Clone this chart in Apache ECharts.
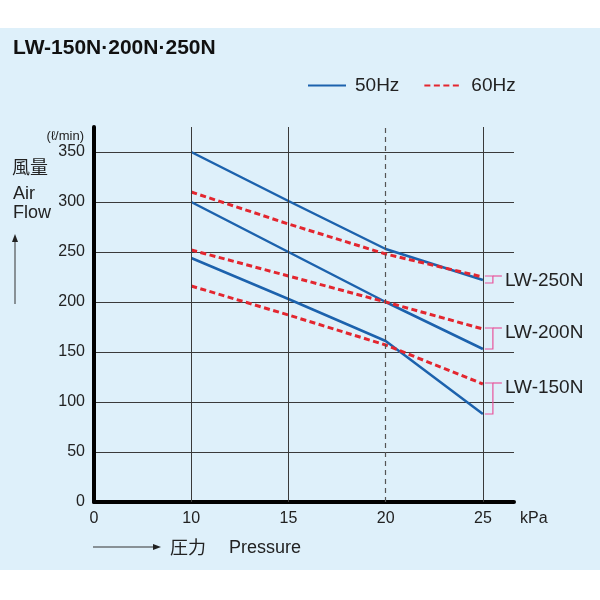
<!DOCTYPE html>
<html lang="ja">
<head>
<meta charset="UTF-8">
<title>LW-150N·200N·250N</title>
<style>
  html, body { margin: 0; padding: 0; background: #fff; }
  #wrap { position: relative; width: 600px; height: 600px; }
  /* light blue panel behind the chart */
  #panel { position: absolute; left: 0; top: 28px; width: 600px; height: 542px; background: #def0fa; }
  #chart { position: absolute; left: 0; top: 0; width: 600px; height: 600px; }
</style>
</head>
<body>
<div id="wrap">
  <div id="panel"></div>
  <div id="chart"></div>
</div>
<script src="https://cdn.jsdelivr.net/npm/echarts@6/dist/echarts.min.js"></script>
<script>
// tick labels of the pressure axis (kPa), drawn at equal spacing
var xTicks = ['0', '10', '15', '20', '25'];
var pressureKpa = [10, 15, 20, 25];

// air flow (l/min)
var flow250N50 = [350, 301, 253, 222];
var flow250N60 = [310, 278, 248, 225];
var flow200N50 = [300, 250, 200, 153];
var flow200N60 = [252, 226, 200, 173];
var flow150N50 = [244, 203, 161, 88];
var flow150N60 = [216, 187, 157, 118];

var modelNames = ['LW-250N', 'LW-200N', 'LW-150N'];

var BLUE = '#1c62ad';
var RED = '#e3262f';
var PINK = '#e8559c';
var INK = '#222';
var FONT = '"Liberation Sans", Arial, sans-serif';
var CJK = '"Noto Sans CJK JP", sans-serif';

// the axis is not linear: 0-10 takes one step, then 5 kPa per step
function axisPos(kpa) {
  return kpa <= 10 ? kpa / 10 : 1 + (kpa - 10) / 5;
}
function toPoints(flows) {
  return pressureKpa.map(function (p, i) { return [axisPos(p), flows[i]]; });
}

function curve(name, flows, color, dashed) {
  return {
    name: name,
    type: 'line',
    z: 3,
    symbol: 'none',
    data: toPoints(flows),
    lineStyle: dashed
      ? { color: color, width: 3, type: [6, 3.5] }
      : { color: color, width: 2.5 },
    itemStyle: { color: color }
  };
}

var last = pressureKpa.length - 1;
var brackets = [
  [axisPos(25), flow250N60[last], flow250N50[last]],
  [axisPos(25), flow200N60[last], flow200N50[last]],
  [axisPos(25), flow150N60[last], flow150N50[last]]
];

var mychart = echarts.init(document.getElementById('chart'));

var option = {
  animation: false,
  grid: { left: 94, right: 86, top: 127, bottom: 98 },
  legend: {
    data: ['50Hz', '60Hz'],
    left: 307,
    top: 76,
    padding: 0,
    itemWidth: 38,
    itemHeight: 20,
    itemGap: 24,
    itemStyle: { opacity: 0 },
    textStyle: { fontSize: 19, color: INK, fontFamily: FONT, padding: [0, 0, 0, 4] }
  },
  xAxis: {
    type: 'value',
    min: 0,
    max: 4.32,
    interval: 1,
    axisLine: { show: true, onZero: false, lineStyle: { color: '#000', width: 4 } },
    axisTick: { show: false },
    splitLine: { show: false },
    axisLabel: {
      margin: 9,
      fontSize: 16,
      color: INK,
      fontFamily: FONT,
      showMaxLabel: false,
      formatter: function (v) { return xTicks[v] !== undefined ? xTicks[v] : ''; }
    }
  },
  yAxis: {
    type: 'value',
    min: 0,
    max: 375,
    interval: 50,
    axisLine: { show: true, onZero: false, lineStyle: { color: '#000', width: 4 } },
    axisTick: { show: false },
    splitLine: { show: true, showMaxLine: false, lineStyle: { color: '#3a3a3a', width: 1 } },
    axisLabel: {
      margin: 9,
      fontSize: 16,
      color: INK,
      fontFamily: FONT,
      showMaxLabel: false
    }
  },
  series: [
    // vertical grid lines at 10, 15, 20 (dashed) and 25 kPa
    {
      type: 'line',
      z: 1,
      data: [],
      markLine: {
        silent: true,
        symbol: 'none',
        label: { show: false },
        data: [
          { xAxis: axisPos(10), lineStyle: { color: '#3a3a3a', width: 1, type: 'solid' } },
          { xAxis: axisPos(15), lineStyle: { color: '#3a3a3a', width: 1, type: 'solid' } },
          { xAxis: axisPos(20), lineStyle: { color: '#555', width: 1.2, type: [5, 4] } },
          { xAxis: axisPos(25), lineStyle: { color: '#3a3a3a', width: 1, type: 'solid' } }
        ]
      }
    },
    curve('50Hz', flow250N50, BLUE, false),
    curve('60Hz', flow250N60, RED, true),
    curve('50Hz', flow200N50, BLUE, false),
    curve('60Hz', flow200N60, RED, true),
    curve('50Hz', flow150N50, BLUE, false),
    curve('60Hz', flow150N60, RED, true),
    // pink brackets tying each model's 60Hz / 50Hz end points to its name
    {
      type: 'custom',
      z: 4,
      data: brackets,
      renderItem: function (params, api) {
        var top = api.coord([api.value(0), api.value(1)]);
        var bot = api.coord([api.value(0), api.value(2)]);
        var x0 = top[0] + 2, xv = top[0] + 10, x1 = top[0] + 19;
        var y0 = top[1] - 1, y1 = Math.max(bot[1], top[1] + 6);
        return {
          type: 'group',
          children: [
            { type: 'polyline', shape: { points: [[x0, y1], [xv, y1], [xv, y0], [x0, y0]] },
              style: { stroke: PINK, fill: 'none', lineWidth: 1.2 } },
            { type: 'line', shape: { x1: xv, y1: y0, x2: x1, y2: y0 },
              style: { stroke: PINK, lineWidth: 1.2 } },
            { type: 'text', style: { text: modelNames[params.dataIndex], x: top[0] + 22, y: y0 + 5,
              verticalAlign: 'middle', fontSize: 19, fontFamily: FONT, fill: INK } }
          ]
        };
      }
    }
  ],
  graphic: [
    { type: 'text', x: 13, y: 48, style: { text: 'LW-150N·200N·250N', fontSize: 21, fontWeight: 'bold',
      fontFamily: FONT, fill: '#111', verticalAlign: 'middle' } },
    { type: 'text', x: 84, y: 136, style: { text: '(ℓ/min)', fontSize: 13, fontFamily: FONT, fill: INK,
      textAlign: 'right', verticalAlign: 'middle' } },
    { type: 'text', x: 12, y: 167, style: { text: '風量', fontSize: 18, fontFamily: CJK, fill: INK,
      verticalAlign: 'middle' } },
    { type: 'text', x: 13, y: 194, style: { text: 'Air', fontSize: 18, fontFamily: FONT, fill: INK,
      verticalAlign: 'middle' } },
    { type: 'text', x: 13, y: 213, style: { text: 'Flow', fontSize: 18, fontFamily: FONT, fill: INK,
      verticalAlign: 'middle' } },
    // up arrow
    { type: 'line', shape: { x1: 15, y1: 304, x2: 15, y2: 240 }, style: { stroke: '#333', lineWidth: 1 } },
    { type: 'polygon', shape: { points: [[15, 234], [12, 242], [18, 242]] }, style: { fill: '#222' } },
    { type: 'text', x: 520, y: 519, style: { text: 'kPa', fontSize: 16, fontFamily: FONT, fill: INK,
      verticalAlign: 'middle' } },
    // right arrow
    { type: 'line', shape: { x1: 93, y1: 547, x2: 155, y2: 547 }, style: { stroke: '#333', lineWidth: 1 } },
    { type: 'polygon', shape: { points: [[161, 547], [153, 544], [153, 550]] }, style: { fill: '#222' } },
    { type: 'text', x: 170, y: 547, style: { text: '圧力', fontSize: 18, fontFamily: CJK, fill: INK,
      verticalAlign: 'middle' } },
    { type: 'text', x: 229, y: 548, style: { text: 'Pressure', fontSize: 18, fontFamily: FONT, fill: INK,
      verticalAlign: 'middle' } }
  ]
};

mychart.setOption(option);
</script>
</body>
</html>
